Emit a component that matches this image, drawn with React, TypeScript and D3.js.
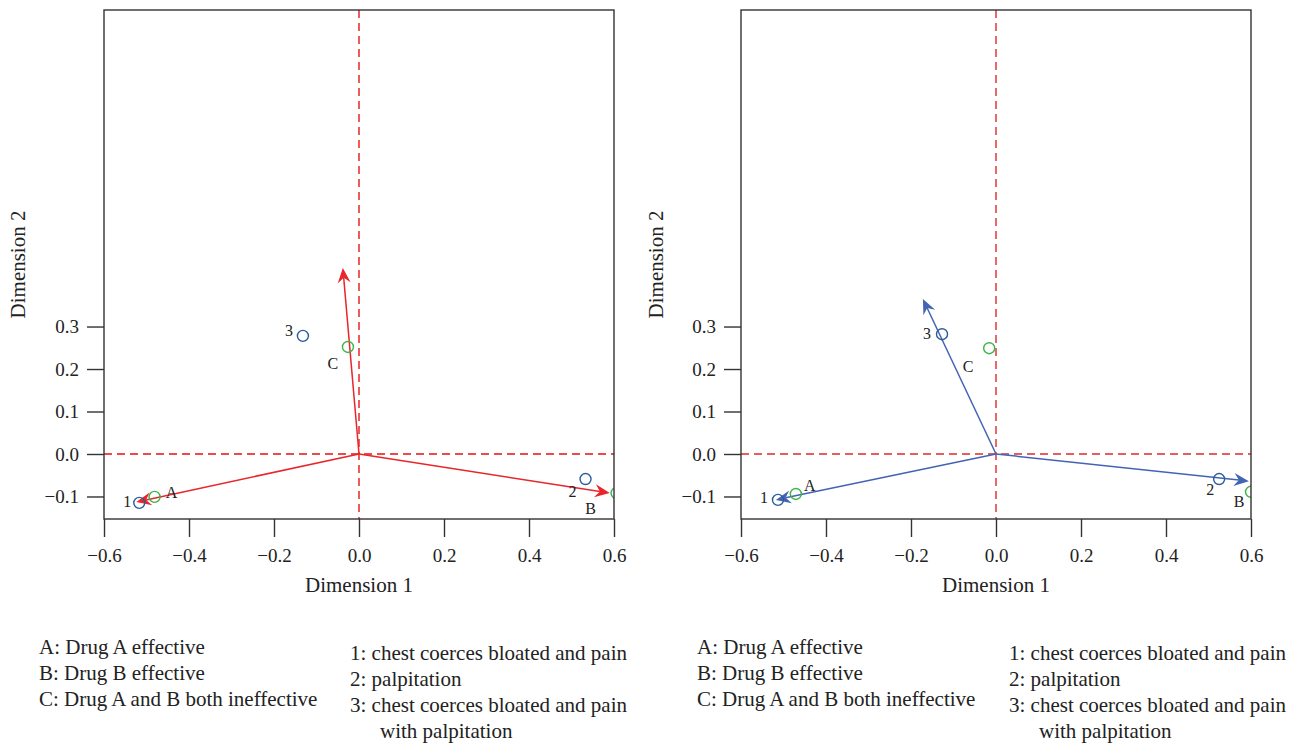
import React, { useEffect, useRef } from 'react';
import * as d3 from 'd3';

// axis ticks
const xTicks = [-0.6, -0.4, -0.2, 0, 0.2, 0.4, 0.6];
const yTicks = [-0.1, 0, 0.1, 0.2, 0.3];

// point labels
const responseLabels = ['A', 'B', 'C'];
const symptomLabels = ['1', '2', '3'];

// left map (red vectors)
const leftResponseX = [-0.481, 0.606, -0.026];
const leftResponseY = [-0.101, -0.092, 0.252];
const leftSymptomX = [-0.517, 0.533, -0.132];
const leftSymptomY = [-0.115, -0.059, 0.278];
const leftVectorX = [-0.524, 0.59, -0.038];
const leftVectorY = [-0.113, -0.092, 0.438];

// right map (blue vectors)
const rightResponseX = [-0.471, 0.6, -0.016];
const rightResponseY = [-0.094, -0.089, 0.249];
const rightSymptomX = [-0.513, 0.525, -0.127];
const rightSymptomY = [-0.108, -0.059, 0.282];
const rightVectorX = [-0.518, 0.595, -0.172];
const rightVectorY = [-0.108, -0.064, 0.365];

// legend texts
const responseLegend = ['A: Drug A effective', 'B: Drug B effective', 'C: Drug A and B both ineffective'];
const symptomLegend = ['1: chest coerces bloated and pain', '2: palpitation', '3: chest coerces bloated and pain', 'with palpitation'];

const FONT = '"Liberation Serif", "Times New Roman", serif';

const panels = [
  {
    id: 'left',
    x0: 104, x1: 614,
    titleX: 18,
    legendX: 39, legend2X: 350,
    rx: leftResponseX, ry: leftResponseY,
    sx: leftSymptomX, sy: leftSymptomY,
    vx: leftVectorX, vy: leftVectorY,
    vecColor: '#e8262b',
    dashColor: '#ec4b4b', dashWidth: 1.8,
    rOff: [[17, 1], [-26, 21], [-15, 22]],
    sOff: [[-12, 4], [-13, 18], [-14, 0]],
  },
  {
    id: 'right',
    x0: 741, x1: 1251,
    titleX: 656,
    legendX: 697, legend2X: 1009,
    rx: rightResponseX, ry: rightResponseY,
    sx: rightSymptomX, sy: rightSymptomY,
    vx: rightVectorX, vy: rightVectorY,
    vecColor: '#4363b3',
    dashColor: '#e02a2a', dashWidth: 1.4,
    rOff: [[14, -3], [-12, 15], [-21, 24]],
    sOff: [[-14, 3], [-9, 16], [-15, 5]],
  },
];

const App = () => {
  const ref = useRef(null);

  useEffect(() => {
    const svg = d3.select(ref.current);
    svg.selectAll('*').remove();

    const top = 10;
    const bottom = 519;

    panels.forEach(p => {
      const x = d3.scaleLinear().domain([-0.6, 0.6]).range([p.x0, p.x1]);
      const y = d3.scaleLinear().domain([-0.153, 1.045]).range([bottom, top]);
      const g = svg.append('g');

      g.append('clipPath').attr('id', 'clip-' + p.id)
        .append('rect')
        .attr('x', p.x0).attr('y', top)
        .attr('width', p.x1 - p.x0).attr('height', bottom - top);

      const plot = g.append('g').attr('clip-path', `url(#clip-${p.id})`);

      // reference lines
      plot.append('line')
        .attr('x1', p.x0).attr('x2', p.x1)
        .attr('y1', y(0)).attr('y2', y(0))
        .attr('stroke', p.dashColor).attr('stroke-width', p.dashWidth)
        .attr('stroke-dasharray', '8,5');
      plot.append('line')
        .attr('x1', x(0)).attr('x2', x(0))
        .attr('y1', top).attr('y2', bottom)
        .attr('stroke', p.dashColor).attr('stroke-width', p.dashWidth)
        .attr('stroke-dasharray', '8,5');

      // vectors
      p.vx.forEach((vx, i) => {
        const ox = x(0), oy = y(0);
        const tx = x(vx), ty = y(p.vy[i]);
        const len = Math.hypot(tx - ox, ty - oy);
        const ux = (tx - ox) / len, uy = (ty - oy) / len;
        const nx = -uy, ny = ux;
        const L = 15, w = 6.5, notch = 10;
        plot.append('line')
          .attr('x1', ox).attr('y1', oy)
          .attr('x2', tx - ux * notch).attr('y2', ty - uy * notch)
          .attr('stroke', p.vecColor).attr('stroke-width', 1.5);
        const pts = [
          [tx, ty],
          [tx - ux * L + nx * w, ty - uy * L + ny * w],
          [tx - ux * notch, ty - uy * notch],
          [tx - ux * L - nx * w, ty - uy * L - ny * w],
        ];
        plot.append('path')
          .attr('d', 'M' + pts.map(d => d.join(',')).join('L') + 'Z')
          .attr('fill', p.vecColor);
      });

      // symptom points (blue) and response points (green)
      p.sx.forEach((sx, i) => {
        plot.append('circle')
          .attr('cx', x(sx)).attr('cy', y(p.sy[i])).attr('r', 5.5)
          .attr('fill', 'none').attr('stroke', '#2b5c9c').attr('stroke-width', 1.4);
      });
      p.rx.forEach((rx, i) => {
        plot.append('circle')
          .attr('cx', x(rx)).attr('cy', y(p.ry[i])).attr('r', 5.5)
          .attr('fill', 'none').attr('stroke', '#3cb44a').attr('stroke-width', 1.4);
      });

      // point labels
      p.sx.forEach((sx, i) => {
        g.append('text')
          .attr('x', x(sx) + p.sOff[i][0]).attr('y', y(p.sy[i]) + p.sOff[i][1])
          .attr('text-anchor', 'middle')
          .attr('font-family', FONT).attr('font-size', 16).attr('fill', '#222')
          .text(symptomLabels[i]);
      });
      p.rx.forEach((rx, i) => {
        g.append('text')
          .attr('x', x(rx) + p.rOff[i][0]).attr('y', y(p.ry[i]) + p.rOff[i][1])
          .attr('text-anchor', 'middle')
          .attr('font-family', FONT).attr('font-size', 16).attr('fill', '#222')
          .text(responseLabels[i]);
      });

      // frame
      g.append('rect')
        .attr('x', p.x0).attr('y', top)
        .attr('width', p.x1 - p.x0).attr('height', bottom - top)
        .attr('fill', 'none').attr('stroke', '#333').attr('stroke-width', 1.4);

      // x axis
      const xAxis = g.append('g')
        .attr('transform', `translate(0,${bottom})`)
        .call(d3.axisBottom(x).tickValues(xTicks).tickSize(18).tickPadding(12)
          .tickFormat(d => d3.format('.1f')(d).replace('-', '\u2212')));
      xAxis.select('.domain').remove();
      xAxis.selectAll('line').attr('stroke', '#333').attr('stroke-width', 1.4);
      xAxis.selectAll('text').attr('font-family', FONT).attr('font-size', 19).attr('fill', '#222');

      // y axis
      const yAxis = g.append('g')
        .attr('transform', `translate(${p.x0},0)`)
        .call(d3.axisLeft(y).tickValues(yTicks).tickSize(17).tickPadding(8)
          .tickFormat(d => d3.format('.1f')(d).replace('-', '\u2212')));
      yAxis.select('.domain').remove();
      yAxis.selectAll('line').attr('stroke', '#333').attr('stroke-width', 1.4);
      yAxis.selectAll('text').attr('font-family', FONT).attr('font-size', 19).attr('fill', '#222');

      // axis titles
      g.append('text')
        .attr('x', (p.x0 + p.x1) / 2).attr('y', 592)
        .attr('text-anchor', 'middle')
        .attr('font-family', FONT).attr('font-size', 21).attr('fill', '#222')
        .text('Dimension 1');
      g.append('text')
        .attr('transform', `translate(${p.titleX + 7},${(top + bottom) / 2}) rotate(-90)`)
        .attr('text-anchor', 'middle')
        .attr('font-family', FONT).attr('font-size', 21).attr('fill', '#222')
        .text('Dimension 2');

      // legend
      responseLegend.forEach((t, i) => {
        g.append('text')
          .attr('x', p.legendX).attr('y', 654 + i * 26)
          .attr('font-family', FONT).attr('font-size', 21).attr('fill', '#222')
          .text(t);
      });
      symptomLegend.forEach((t, i) => {
        g.append('text')
          .attr('x', p.legend2X + (i === 3 ? 30 : 0)).attr('y', 660 + i * 26)
          .attr('font-family', FONT).attr('font-size', 21).attr('fill', '#222')
          .text(t);
      });
    });
  }, []);

  return (
    <svg
      ref={ref}
      width={1295}
      height={743}
      style={{ position: 'absolute', left: 0, top: 0, background: '#fff' }}
    />
  );
};

export default App;
